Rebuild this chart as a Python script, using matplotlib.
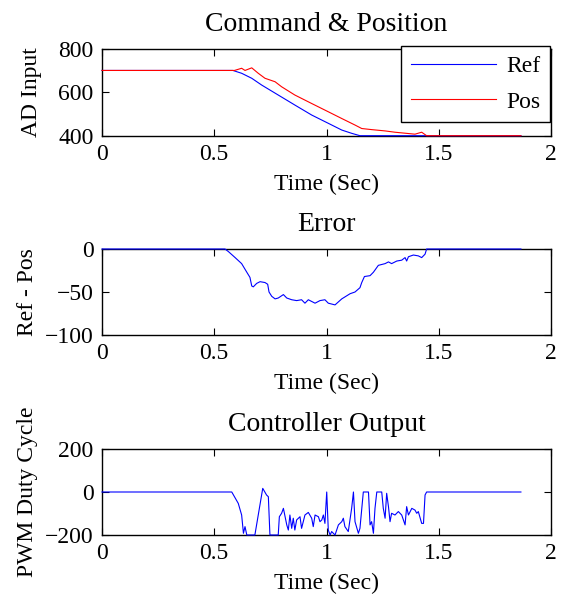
import matplotlib
matplotlib.use('Agg')
import matplotlib.pyplot as plt

plt.rcParams['font.family'] = ['Liberation Serif', 'DejaVu Serif']
plt.rcParams['xtick.direction'] = 'in'
plt.rcParams['ytick.direction'] = 'in'
plt.rcParams['xtick.top'] = True
plt.rcParams['ytick.right'] = True

# Command & Position
ref_t = [0.0, 0.583, 0.622, 0.667, 0.711, 0.785, 0.859, 0.934, 1.008, 1.068,
         1.112, 1.149, 1.866]
ref_v = [700, 700, 687, 664, 633, 587, 541, 495, 457, 426, 411, 400, 400]

pos_t = [0.0, 0.590, 0.622, 0.637, 0.667, 0.696, 0.726, 0.771, 0.800, 0.859,
         0.934, 1.008, 1.068, 1.127, 1.157, 1.201, 1.261, 1.305, 1.394, 1.424,
         1.446, 1.866]
pos_v = [700, 700, 710, 700, 712, 687, 664, 648, 625, 587, 548, 510, 479, 449,
         433, 428, 422, 416, 407, 416, 400, 400]

# Error (Ref - Pos)
err_t = [0.0, 0.548, 0.563, 0.593, 0.622, 0.645, 0.659, 0.667, 0.674, 0.689,
         0.704, 0.726, 0.738, 0.744, 0.756, 0.771, 0.785, 0.808, 0.823, 0.845,
         0.867, 0.889, 0.904, 0.919, 0.949, 0.971, 0.993, 1.008, 1.038, 1.068,
         1.105, 1.127, 1.149, 1.157, 1.169, 1.194, 1.209, 1.231, 1.261, 1.276,
         1.290, 1.313, 1.335, 1.350, 1.357, 1.365, 1.387, 1.409, 1.424, 1.439,
         1.446, 1.866]
err_v = [0, 0, -3, -10, -17, -27, -33, -43, -44, -40,
         -38, -39, -41, -50, -55, -58, -57, -53, -57, -59,
         -60, -59, -63, -59, -63, -60, -59, -63, -65, -58,
         -52, -50, -45, -39, -32, -31, -27, -19, -17, -15,
         -17, -14, -13, -10, -14, -9, -7, -8, -10, -6,
         0, 0]

# Controller output (PWM duty cycle)
pwm_t = [0.0, 0.578, 0.607, 0.622, 0.630, 0.637, 0.645, 0.681, 0.696, 0.716,
         0.733, 0.741, 0.748, 0.785, 0.790, 0.800, 0.808, 0.823, 0.830, 0.837,
         0.845, 0.852, 0.859, 0.867, 0.882, 0.889, 0.904, 0.919, 0.934, 0.941,
         0.949, 0.964, 0.971, 0.979, 0.986, 0.993, 1.001, 1.008, 1.016, 1.023,
         1.038, 1.053, 1.068, 1.075, 1.082, 1.097, 1.112, 1.120, 1.127, 1.142,
         1.149, 1.164, 1.187, 1.194, 1.201, 1.209, 1.216, 1.224, 1.246, 1.253,
         1.261, 1.268, 1.276, 1.283, 1.290, 1.305, 1.320, 1.335, 1.350, 1.357,
         1.365, 1.380, 1.394, 1.402, 1.409, 1.424, 1.432, 1.439, 1.446, 1.866]
pwm_v = [0, 0, -53, -107, -192, -161, -200, -200, -107, 17,
         -14, -22, -200, -200, -115, -99, -76, -153, -177, -107,
         -169, -122, -177, -130, -115, -169, -107, -95, -122, -161,
         -107, -115, -138, -130, -107, -146, 0, -177, -200, -184,
         -200, -153, -138, -122, -161, -184, -76, 0, -138, -192,
         -169, 0, 0, -153, -138, -192, -76, 0, 0, -76,
         -122, -6, -68, -138, -99, -107, -91, -107, -153, -68,
         -107, -76, -84, -99, -91, -146, -146, -14, 0, 0]

fig = plt.figure(figsize=(5.63, 5.96), dpi=100)
W, H = 563.0, 596.0
left, width = 102 / W, 449 / W
ax1 = fig.add_axes([left, (H - 135.7) / H, width, 87 / H])
ax2 = fig.add_axes([left, (H - 335) / H, width, 86 / H])
ax3 = fig.add_axes([left, (H - 535) / H, width, 86 / H])

fs = 17
tfs = 20
lw = 0.8
line_kw = dict(lw=lw, zorder=3, clip_on=False)

ax1.plot(ref_t, ref_v, color='#0000ff', label='Ref', **line_kw)
ax1.plot(pos_t, pos_v, color='#ff0000', label='Pos', **line_kw)
ax1.set_ylim(400, 800)
ax1.set_yticks([400, 600, 800])
ax1.set_title('Command & Position', fontsize=tfs, pad=13)
ax1.set_ylabel('AD Input', fontsize=fs, labelpad=12)
leg = ax1.legend(loc='upper right', bbox_to_anchor=(0.998, 1.031),
                 borderaxespad=0, fontsize=fs, handlelength=3.6,
                 handletextpad=0.45, labelspacing=0.6, fancybox=False,
                 edgecolor='black', framealpha=1, borderpad=0.4)
leg.get_frame().set_linewidth(1.0)
leg.set_zorder(5)

ax2.plot(err_t, err_v, color='#0000ff', **line_kw)
ax2.set_ylim(-100, 0)
ax2.set_yticks([-100, -50, 0])
ax2.set_title('Error', fontsize=tfs, pad=13)
ax2.set_ylabel('Ref - Pos', fontsize=fs, labelpad=5)

ax3.plot(pwm_t, pwm_v, color='#0000ff', **line_kw)
ax3.set_ylim(-200, 200)
ax3.set_yticks([-200, 0, 200])
ax3.set_title('Controller Output', fontsize=tfs, pad=13)
ax3.set_ylabel('PWM Duty Cycle', fontsize=fs, labelpad=5)

for ax in (ax1, ax2, ax3):
    ax.set_xlim(0, 2)
    ax.set_xticks([0, 0.5, 1, 1.5, 2])
    ax.set_xticklabels(['0', '0.5', '1', '1.5', '2'])
    ax.set_xlabel('Time (Sec)', fontsize=fs, labelpad=6.5)
    ax.tick_params(labelsize=fs, length=5, width=0.8, pad=6)
    for s in ax.spines.values():
        s.set_linewidth(1.0)

fig.savefig('out.png', dpi=100)
